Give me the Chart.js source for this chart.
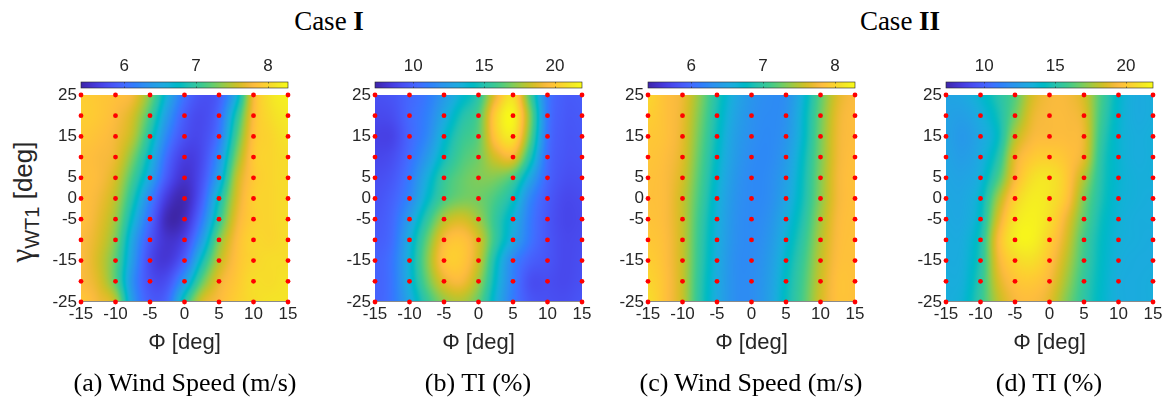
<!DOCTYPE html>
<html>
<head>
<meta charset="utf-8">
<script src="https://cdn.jsdelivr.net/npm/chart.js@4"></script>
<style>
  body { margin: 0; width: 1165px; height: 412px; background: #fff; position: relative; overflow: hidden; }
  canvas { position: absolute; top: 40px; }
  .txt { position: absolute; white-space: nowrap; }
  .case { font-family: 'Liberation Serif'; font-size: 27px; line-height: 27px; top: 8px; transform: translateX(-50%); color: #000; }
  .cap { font-family: 'Liberation Serif'; font-size: 26px; line-height: 26px; top: 370px; transform: translateX(-50%); color: #000; }
  #ylab { font-family: 'Liberation Sans'; font-size: 26px; color: #262626; left: 24px; top: 202px; transform: translate(-50%, -50%) rotate(-90deg); }
  #ylab .g { font-family: 'Liberation Serif'; font-size: 31px; }
  #ylab sub { font-size: 20px; vertical-align: -7px; }
</style>
</head>
<body>
<div class="txt case" style="left:329px">Case <b>I</b></div>
<div class="txt case" style="left:900px">Case <b>II</b></div>

<div class="txt" id="ylab"><span class="g">γ</span><sub>WT1</sub> [deg]</div>

<canvas id="pa" width="281" height="340" style="left:21px"></canvas>
<canvas id="pb" width="281" height="340" style="left:315px"></canvas>
<canvas id="pc" width="281" height="340" style="left:588px"></canvas>
<canvas id="pd" width="281" height="340" style="left:886px"></canvas>

<div class="txt cap" style="left:185px">(a) Wind Speed (m/s)</div>
<div class="txt cap" style="left:478px">(b) TI (%)</div>
<div class="txt cap" style="left:751px">(c) Wind Speed (m/s)</div>
<div class="txt cap" style="left:1049px">(d) TI (%)</div>

<script>
// measurement points (red dots)
const phiPts = [-15, -10, -5, 0, 5, 10, 15];
const gammaPts = [-25, -20, -15, -10, -5, 0, 5, 10, 15, 20, 25];

// axis ticks
const phiTicks = [-15, -10, -5, 0, 5, 10, 15];
const gammaTicks = [-25, -15, -5, 0, 5, 15, 25];
const wsTicks = [6, 7, 8];
const tiTicks = [10, 15, 20];

// colorbar limits
const wsRange = [5.4, 8.28];
const tiRange = [7.3, 21.9];

// field: columns phiGrid, rows gammaGrid (top to bottom)
const phiGrid = [-15, -12.5, -10, -7.5, -5, -2.5, 0, 2.5, 5, 7.5, 10, 12.5, 15];
const gammaGrid = [25, 20, 15, 10, 5, 0, -5, -10, -15, -20, -25];

const wsCase1 = [
  [7.95, 7.9, 7.85, 7.75, 7.3, 6.6, 6.05, 5.8, 5.9, 6.6, 7.75, 8.1, 8.2],
  [7.95, 7.9, 7.8, 7.6, 7.1, 6.4, 5.9, 5.75, 6.0, 6.9, 7.8, 8.05, 8.15],
  [7.9, 7.85, 7.75, 7.5, 6.9, 6.2, 5.8, 5.75, 6.1, 7.1, 7.85, 8.0, 8.1],
  [7.85, 7.8, 7.7, 7.3, 6.7, 6.0, 5.65, 5.75, 6.3, 7.3, 7.9, 8.0, 8.05],
  [7.85, 7.8, 7.6, 7.1, 6.5, 5.85, 5.55, 5.8, 6.5, 7.5, 7.9, 8.0, 8.05],
  [7.85, 7.75, 7.5, 6.9, 6.2, 5.6, 5.45, 5.9, 6.8, 7.6, 7.95, 8.0, 8.05],
  [7.85, 7.7, 7.4, 6.7, 6.0, 5.45, 5.5, 6.1, 7.0, 7.7, 7.95, 8.0, 8.05],
  [7.8, 7.65, 7.3, 6.5, 5.85, 5.55, 5.7, 6.4, 7.3, 7.8, 8.0, 8.0, 8.05],
  [7.8, 7.6, 7.2, 6.4, 5.75, 5.6, 5.95, 6.8, 7.5, 7.85, 8.0, 8.05, 8.05],
  [7.8, 7.65, 7.2, 6.3, 5.8, 5.8, 6.4, 7.2, 7.7, 7.9, 8.05, 8.05, 8.1],
  [7.9, 7.75, 7.5, 6.4, 5.9, 6.0, 6.9, 7.6, 7.8, 7.95, 8.05, 8.1, 8.1]
];

const tiCase1 = [
  [9.3, 9.5, 10.2, 10.9, 12.3, 13.8, 15.3, 19.0, 20.8, 16.0, 11.0, 9.8, 9.8],
  [9.0, 9.2, 10.3, 11.2, 13.0, 14.8, 16.2, 20.3, 21.6, 17.0, 11.0, 9.7, 9.7],
  [8.7, 8.8, 10.2, 11.5, 13.8, 15.5, 16.5, 20.0, 21.0, 16.5, 10.8, 9.6, 9.6],
  [8.9, 9.2, 10.5, 12.3, 14.5, 16.0, 16.8, 18.5, 19.0, 15.0, 10.5, 9.5, 9.5],
  [9.2, 9.6, 11.0, 13.3, 15.5, 16.5, 17.0, 17.0, 16.0, 13.0, 10.2, 9.3, 9.3],
  [9.4, 10.0, 11.5, 14.0, 16.0, 16.8, 16.8, 16.0, 14.5, 11.5, 9.8, 9.0, 9.1],
  [9.6, 10.3, 12.5, 15.3, 17.8, 18.5, 17.5, 15.5, 13.5, 11.0, 9.6, 8.9, 9.0],
  [9.8, 10.5, 13.3, 16.5, 19.3, 19.8, 18.5, 15.5, 13.0, 10.8, 9.6, 9.0, 9.1],
  [10.0, 10.8, 13.6, 17.0, 19.8, 20.0, 18.3, 14.5, 11.5, 10.0, 9.5, 9.0, 9.2],
  [10.0, 10.8, 13.5, 16.5, 18.8, 19.3, 17.5, 14.0, 11.2, 9.3, 9.2, 9.0, 9.3],
  [10.0, 10.8, 13.0, 15.5, 17.3, 17.8, 16.5, 13.5, 11.0, 9.6, 9.3, 9.2, 9.5]
];

const wsCase2 = [
  [8.0, 7.85, 7.72, 7.35, 6.9, 6.55, 6.35, 6.27, 6.3, 6.65, 7.2, 7.65, 7.8],
  [7.95, 7.85, 7.7, 7.3, 6.85, 6.5, 6.32, 6.26, 6.32, 6.7, 7.25, 7.7, 7.82],
  [7.9, 7.85, 7.68, 7.25, 6.8, 6.45, 6.3, 6.25, 6.35, 6.72, 7.28, 7.72, 7.82],
  [7.88, 7.82, 7.65, 7.2, 6.75, 6.42, 6.27, 6.25, 6.4, 6.78, 7.3, 7.73, 7.84],
  [7.86, 7.8, 7.6, 7.15, 6.7, 6.38, 6.25, 6.27, 6.45, 6.82, 7.33, 7.75, 7.85],
  [7.85, 7.8, 7.55, 7.1, 6.65, 6.35, 6.25, 6.28, 6.5, 6.85, 7.35, 7.75, 7.85],
  [7.87, 7.8, 7.55, 7.05, 6.62, 6.33, 6.25, 6.32, 6.58, 6.92, 7.42, 7.78, 7.85],
  [7.9, 7.82, 7.55, 7.02, 6.6, 6.32, 6.26, 6.36, 6.65, 7.0, 7.48, 7.8, 7.85],
  [7.95, 7.83, 7.55, 7.0, 6.58, 6.3, 6.27, 6.4, 6.72, 7.07, 7.53, 7.82, 7.85],
  [8.0, 7.85, 7.55, 6.97, 6.56, 6.3, 6.28, 6.43, 6.77, 7.12, 7.57, 7.85, 7.85],
  [8.05, 7.85, 7.55, 6.95, 6.55, 6.3, 6.28, 6.45, 6.8, 7.15, 7.6, 7.85, 7.85]
];

const tiCase2 = [
  [12.8, 13.0, 13.8, 15.0, 16.3, 18.5, 19.3, 19.3, 18.5, 16.0, 14.0, 13.2, 13.3],
  [12.7, 12.6, 13.3, 14.6, 16.8, 18.9, 19.4, 19.4, 18.8, 15.8, 13.9, 13.2, 13.3],
  [12.7, 12.3, 13.0, 14.3, 17.8, 19.3, 19.5, 19.5, 19.0, 15.5, 13.8, 13.3, 13.4],
  [12.8, 12.5, 13.2, 15.0, 18.8, 20.0, 20.2, 19.8, 18.8, 15.2, 13.8, 13.3, 13.4],
  [12.9, 12.8, 13.5, 16.0, 19.3, 20.8, 21.0, 20.0, 17.8, 15.0, 13.8, 13.4, 13.4],
  [13.0, 13.0, 14.0, 17.5, 20.3, 21.3, 21.0, 19.8, 17.0, 14.8, 13.7, 13.4, 13.3],
  [13.1, 13.1, 14.3, 18.5, 21.0, 21.5, 20.8, 19.0, 16.5, 14.5, 13.6, 13.3, 13.3],
  [13.2, 13.3, 14.8, 19.3, 21.3, 21.5, 20.3, 18.5, 16.0, 14.3, 13.5, 13.3, 13.2],
  [13.2, 13.4, 15.0, 19.0, 20.5, 20.8, 19.8, 18.0, 15.8, 14.2, 13.4, 13.2, 13.2],
  [13.3, 13.5, 15.3, 18.5, 19.8, 20.0, 19.3, 17.5, 15.5, 14.1, 13.3, 13.2, 13.3],
  [13.3, 13.7, 15.5, 18.0, 19.3, 19.5, 18.8, 17.0, 15.3, 14.0, 13.3, 13.2, 13.3]
];

// MATLAB parula colormap (64 entries)
const parula = [
  [0.2422,0.1504,0.6603],[0.2504,0.1650,0.7076],[0.2578,0.1818,0.7511],[0.2647,0.1978,0.7952],
  [0.2706,0.2147,0.8364],[0.2751,0.2342,0.8710],[0.2783,0.2559,0.8991],[0.2803,0.2782,0.9221],
  [0.2813,0.3006,0.9414],[0.2810,0.3228,0.9579],[0.2795,0.3447,0.9717],[0.2760,0.3667,0.9829],
  [0.2699,0.3892,0.9906],[0.2602,0.4123,0.9952],[0.2440,0.4358,0.9988],[0.2206,0.4603,0.9973],
  [0.1963,0.4847,0.9892],[0.1834,0.5074,0.9798],[0.1786,0.5289,0.9682],[0.1764,0.5499,0.9520],
  [0.1687,0.5703,0.9359],[0.1540,0.5902,0.9218],[0.1460,0.6091,0.9079],[0.1380,0.6276,0.8973],
  [0.1248,0.6459,0.8883],[0.1113,0.6635,0.8763],[0.0952,0.6798,0.8598],[0.0689,0.6948,0.8394],
  [0.0297,0.7082,0.8163],[0.0036,0.7203,0.7917],[0.0067,0.7312,0.7660],[0.0433,0.7411,0.7394],
  [0.0964,0.7500,0.7120],[0.1408,0.7584,0.6842],[0.1717,0.7670,0.6554],[0.1938,0.7758,0.6251],
  [0.2161,0.7843,0.5923],[0.2470,0.7918,0.5567],[0.2906,0.7973,0.5188],[0.3406,0.8008,0.4789],
  [0.3909,0.8029,0.4354],[0.4456,0.8024,0.3909],[0.5044,0.7993,0.3480],[0.5616,0.7942,0.3045],
  [0.6174,0.7876,0.2612],[0.6720,0.7793,0.2227],[0.7242,0.7698,0.1910],[0.7738,0.7598,0.1646],
  [0.8203,0.7498,0.1535],[0.8634,0.7406,0.1596],[0.9035,0.7330,0.1774],[0.9393,0.7288,0.2100],
  [0.9728,0.7298,0.2394],[0.9956,0.7434,0.2371],[0.9970,0.7659,0.2199],[0.9952,0.7893,0.2028],
  [0.9892,0.8136,0.1885],[0.9786,0.8386,0.1766],[0.9676,0.8639,0.1643],[0.9610,0.8890,0.1537],
  [0.9597,0.9135,0.1423],[0.9628,0.9373,0.1265],[0.9691,0.9606,0.1064],[0.9769,0.9839,0.0805]
];

function parulaRGB(t) {
  t = Math.min(1, Math.max(0, t));
  const f = t * (parula.length - 1);
  const i = Math.min(Math.floor(f), parula.length - 2);
  const u = f - i;
  const a = parula[i], b = parula[i + 1];
  return [0, 1, 2].map(k => Math.round((a[k] + (b[k] - a[k]) * u) * 255));
}

// catmull-rom shading between the read values (like shading interp)
function cr(p0, p1, p2, p3, t) {
  return p1 + 0.5 * t * (p2 - p0 + t * (2 * p0 - 5 * p1 + 4 * p2 - p3 + t * (3 * (p1 - p2) + p3 - p0)));
}
function sampleGrid(g, fx, fy) {
  const nr = g.length, nc = g[0].length;
  const cx = Math.min(Math.max(fx, 0), nc - 1), cy = Math.min(Math.max(fy, 0), nr - 1);
  const ix = Math.min(Math.floor(cx), nc - 2), iy = Math.min(Math.floor(cy), nr - 2);
  const tx = cx - ix, ty = cy - iy;
  const at = (r, c) => g[Math.min(Math.max(r, 0), nr - 1)][Math.min(Math.max(c, 0), nc - 1)];
  const rows = [];
  for (let k = -1; k <= 2; k++) {
    rows.push(cr(at(iy + k, ix - 1), at(iy + k, ix), at(iy + k, ix + 1), at(iy + k, ix + 2), tx));
  }
  return cr(rows[0], rows[1], rows[2], rows[3], ty);
}

const points = [];
phiPts.forEach(p => gammaPts.forEach(g => points.push({ x: p, y: g })));

Chart.defaults.font.family = 'Liberation Sans';
Chart.defaults.color = '#262626';

function makePanel(id, grid, range, cbTicks) {
  // heatmap + colorbar drawn under the red dots
  const heat = {
    id: 'heat',
    beforeDatasetsDraw(chart) {
      const { ctx, chartArea: a, scales } = chart;
      const xs = scales.x, ys = scales.y, cb = scales.cb;
      const w = Math.round(a.right - a.left), h = Math.round(a.bottom - a.top);
      const off = document.createElement('canvas');
      off.width = w; off.height = h;
      const octx = off.getContext('2d');
      const img = octx.createImageData(w, h);
      const dx = phiGrid[1] - phiGrid[0], dy = gammaGrid[0] - gammaGrid[1];
      for (let j = 0; j < h; j++) {
        const gy = ys.getValueForPixel(a.top + j + 0.5);
        const fy = (gammaGrid[0] - gy) / dy;
        for (let i = 0; i < w; i++) {
          const gx = xs.getValueForPixel(a.left + i + 0.5);
          const fx = (gx - phiGrid[0]) / dx;
          const v = sampleGrid(grid, fx, fy);
          const c = parulaRGB((v - cb.min) / (cb.max - cb.min));
          const o = (j * w + i) * 4;
          img.data[o] = c[0]; img.data[o + 1] = c[1]; img.data[o + 2] = c[2]; img.data[o + 3] = 255;
        }
      }
      octx.putImageData(img, 0, 0);
      ctx.drawImage(off, a.left, a.top);

      // bottom axis line
      ctx.fillStyle = '#8a8a8a';
      ctx.fillRect(a.left, Math.round(a.bottom) - 1, w, 1);

      // colorbar
      const y0 = a.top - 13, hh = 6;
      for (let px = Math.floor(cb.left); px < cb.right; px++) {
        const c = parulaRGB((cb.getValueForPixel(px + 0.5) - cb.min) / (cb.max - cb.min));
        ctx.fillStyle = `rgb(${c[0]},${c[1]},${c[2]})`;
        ctx.fillRect(px, y0, 1, hh);
      }
      ctx.strokeStyle = '#262626';
      ctx.lineWidth = 0.6;
      ctx.strokeRect(cb.left, y0, cb.right - cb.left, hh);
      ctx.beginPath();
      cbTicks.forEach(t => {
        const px = Math.round(cb.getPixelForValue(t)) + 0.5;
        ctx.moveTo(px, y0); ctx.lineTo(px, y0 + 1.5);
        ctx.moveTo(px, y0 + hh); ctx.lineTo(px, y0 + hh - 1.5);
      });
      ctx.stroke();
    }
  };

  const tickFont = { family: 'Liberation Sans', size: 17 };
  new Chart(document.getElementById(id), {
    type: 'scatter',
    data: {
      datasets: [{
        data: points,
        backgroundColor: '#ff0000',
        pointRadius: 2.4,
        pointBorderWidth: 0,
        clip: false
      }]
    },
    options: {
      responsive: false,
      animation: false,
      devicePixelRatio: 1,
      layout: { padding: { right: 14 } },
      plugins: { legend: { display: false }, tooltip: { enabled: false } },
      scales: {
        x: {
          type: 'linear', position: 'bottom', min: -15, max: 15,
          afterBuildTicks: s => { s.ticks = phiTicks.map(v => ({ value: v })); },
          afterFit: s => { s.height = 78; },
          grid: { display: false, drawTicks: false },
          border: { display: false },
          ticks: { font: tickFont, color: '#262626', padding: 2, maxRotation: 0, autoSkip: false },
          title: { display: true, text: 'Φ [deg]', font: { family: 'Liberation Sans', size: 22 }, color: '#262626', padding: { top: 0, bottom: 23.5 } }
        },
        y: {
          type: 'linear', position: 'left', min: -25, max: 25,
          afterBuildTicks: s => { s.ticks = gammaTicks.map(v => ({ value: v })); },
          afterFit: s => { s.width = 60; },
          grid: { display: false, drawTicks: false },
          border: { display: false },
          ticks: { font: tickFont, color: '#262626', padding: 4, autoSkip: false }
        },
        cb: {
          type: 'linear', axis: 'x', position: 'top', min: range[0], max: range[1],
          afterBuildTicks: s => { s.ticks = cbTicks.map(v => ({ value: v })); },
          afterFit: s => { s.height = 55; },
          grid: { display: false, drawTicks: false },
          border: { display: false },
          ticks: { font: tickFont, color: '#262626', padding: 18, maxRotation: 0, autoSkip: false }
        }
      }
    },
    plugins: [heat]
  });
}

makePanel('pa', wsCase1, wsRange, wsTicks);
makePanel('pb', tiCase1, tiRange, tiTicks);
makePanel('pc', wsCase2, wsRange, wsTicks);
makePanel('pd', tiCase2, tiRange, tiTicks);
</script>
</body>
</html>
